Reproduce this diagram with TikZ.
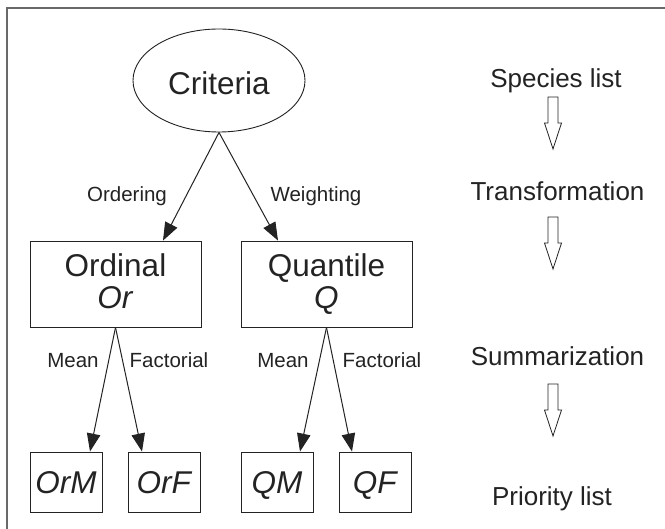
\documentclass[tikz,border=0pt]{standalone}
\usepackage{fontspec}
\setmainfont{Liberation Sans}
\usetikzlibrary{arrows.meta,shapes.geometric}
\definecolor{ink}{RGB}{35,35,35}
\definecolor{framegray}{RGB}{105,105,105}
\begin{document}
\begin{tikzpicture}[x=1pt,y=-1pt,
  box/.style={draw=ink,line width=0.9pt,inner sep=0pt,text=ink},
  big/.style={font=\fontsize{31.5}{32}\selectfont},
  lab/.style={font=\fontsize{20.5}{22}\selectfont,text=ink,anchor=base,inner sep=0pt},
  side/.style={font=\fontsize{26}{28}\selectfont,text=ink,anchor=base,inner sep=0pt},
  conn/.style={draw=ink,line width=1pt,-{Triangle[length=18pt,width=13.5pt]}},
  hollow/.pic={\draw[ink,line width=0.8pt,line join=miter] (-5,0) -- (-5,26) -- (-8.5,26) -- (0,52) -- (8.5,26) -- (5,26) -- (5,0) -- cycle;}
]
\useasboundingbox (0,0) rectangle (665,529);
\fill[white] (0,0) rectangle (665,529);
% frame
\draw[framegray,line width=2.3pt,line join=miter] (7.2,535) -- (7.2,7.8) -- (670,7.8);

% nodes
\node[box,big,ellipse,minimum width=172pt,minimum height=103pt,text height=29pt,text depth=0pt] (crit) at (219,80.5) {Criteria};
\node[box,big,minimum width=171pt,minimum height=86pt,align=center] (ord) at (115.5,284) {Ordinal\\\textit{Or}\vphantom{\textit{Q}}};
\node[box,big,minimum width=171pt,minimum height=86pt,align=center] (qua) at (326.5,284) {Quantile\\\textit{Q}};
\node[box,big,minimum width=72pt,minimum height=60pt,text height=23pt,text depth=0pt] (orm) at (66,482) {\textit{OrM}};
\node[box,big,minimum width=72pt,minimum height=60pt,text height=23pt,text depth=0pt] (orf) at (164.5,482) {\textit{OrF}};
\node[box,big,minimum width=72pt,minimum height=60pt,text height=23pt,text depth=0pt] (qm) at (277,482) {\textit{QM}};
\node[box,big,minimum width=72pt,minimum height=60pt,text height=23pt,text depth=0pt] (qf) at (375.5,482) {\textit{QF}};

% connectors
\draw[conn] (crit.south) -- ([xshift=47.5pt]ord.north);
\draw[conn] (crit.south) -- ([xshift=-48.5pt]qua.north);
\draw[conn] (ord.south) -- ([xshift=24pt]orm.north);
\draw[conn] (ord.south) -- ([xshift=-22.5pt]orf.north);
\draw[conn] (qua.south) -- ([xshift=23pt]qm.north);
\draw[conn] (qua.south) -- ([xshift=-23.5pt]qf.north);

% labels
\node[lab] (lord) at (127,202) {Ordering};
\node[lab] (lwei) at (316,202) {Weighting};
\node[lab] (lm1) at (73,368) {Mean};
\node[lab] (lf1) at (169,368) {Factorial};
\node[lab] (lm2) at (283,368) {Mean};
\node[lab] (lf2) at (382,368) {Factorial};

% right column
\node[side] (sp) at (556,88) {Species list};
\node[side] (tr) at (557.5,201) {Transformation};
\node[side] (su) at (557.5,366) {Summarization};
\node[side] (pr) at (552,506) {Priority list};
\pic at (553,97) {hollow};
\pic at (553,217) {hollow};
\pic at (553,384) {hollow};
\end{tikzpicture}
\end{document}
